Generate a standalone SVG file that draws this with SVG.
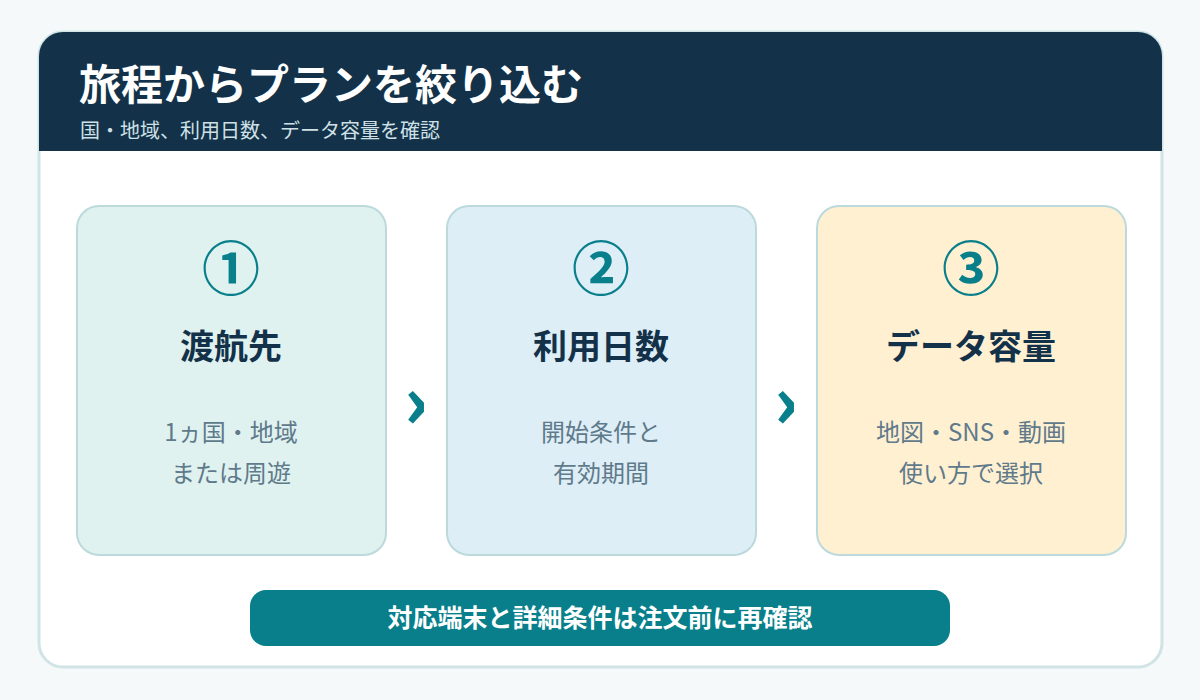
<svg xmlns="http://www.w3.org/2000/svg" width="1200" height="700" viewBox="0 0 1200 700">
<defs>
<style>
.jp{font-family:"Noto Sans CJK JP","Noto Sans",sans-serif}
.box{stroke:#bcd9dc;stroke-width:2}
.num{font-size:58px;font-weight:700;fill:#087f8a;text-anchor:middle}
.head{font-size:34px;font-weight:700;fill:#133249;text-anchor:middle}
.desc{font-size:24px;fill:#5f7a8a;text-anchor:middle}
.arr{font-size:72px;font-weight:900;fill:#087f8a;text-anchor:middle}
</style>
<clipPath id="cardclip"><rect x="39" y="32" width="1123" height="635" rx="24"/></clipPath>
</defs>
<rect width="1200" height="700" fill="#f5f9fa"/>
<g id="card">
<rect x="39" y="32" width="1123" height="635" rx="24" fill="#ffffff" stroke="#d0e4e6" stroke-width="3"/>
<rect x="39" y="32" width="1123" height="119" fill="#133249" clip-path="url(#cardclip)"/>
<text class="jp" x="79" y="100" font-size="42" font-weight="700" fill="#ffffff">旅程からプランを絞り込む</text>
<text class="jp" x="80" y="138" font-size="20" fill="#cfe0e6">国・地域、利用日数、データ容量を確認</text>
</g>
<g id="step1">
<rect class="box" x="77" y="206" width="309" height="349" rx="22" fill="#dff2f0"/>
<text class="jp num" x="231" y="290">①</text>
<text class="jp head" x="231" y="359">渡航先</text>
<text class="jp desc" x="231" y="441">1ヵ国・地域</text>
<text class="jp desc" x="231" y="482">または周遊</text>
</g>
<g id="step2">
<rect class="box" x="447" y="206" width="309" height="349" rx="22" fill="#ddeef7"/>
<text class="jp num" x="601" y="290">②</text>
<text class="jp head" x="601" y="359">利用日数</text>
<text class="jp desc" x="601" y="441">開始条件と</text>
<text class="jp desc" x="601" y="482">有効期間</text>
</g>
<g id="step3">
<rect class="box" x="817" y="206" width="309" height="349" rx="22" fill="#fff0d2"/>
<text class="jp num" x="971" y="290">③</text>
<text class="jp head" x="971" y="359">データ容量</text>
<text class="jp desc" x="971" y="441">地図・SNS・動画</text>
<text class="jp desc" x="971" y="482">使い方で選択</text>
</g>
<g id="connectors">
<text class="jp arr" x="416" y="428">›</text>
<text class="jp arr" x="786" y="428">›</text>
</g>
<g id="note">
<rect x="250" y="590" width="700" height="56" rx="16" fill="#087f8a"/>
<text class="jp" x="600" y="627" font-size="25" font-weight="700" fill="#ffffff" text-anchor="middle">対応端末と詳細条件は注文前に再確認</text>
</g>
</svg>
